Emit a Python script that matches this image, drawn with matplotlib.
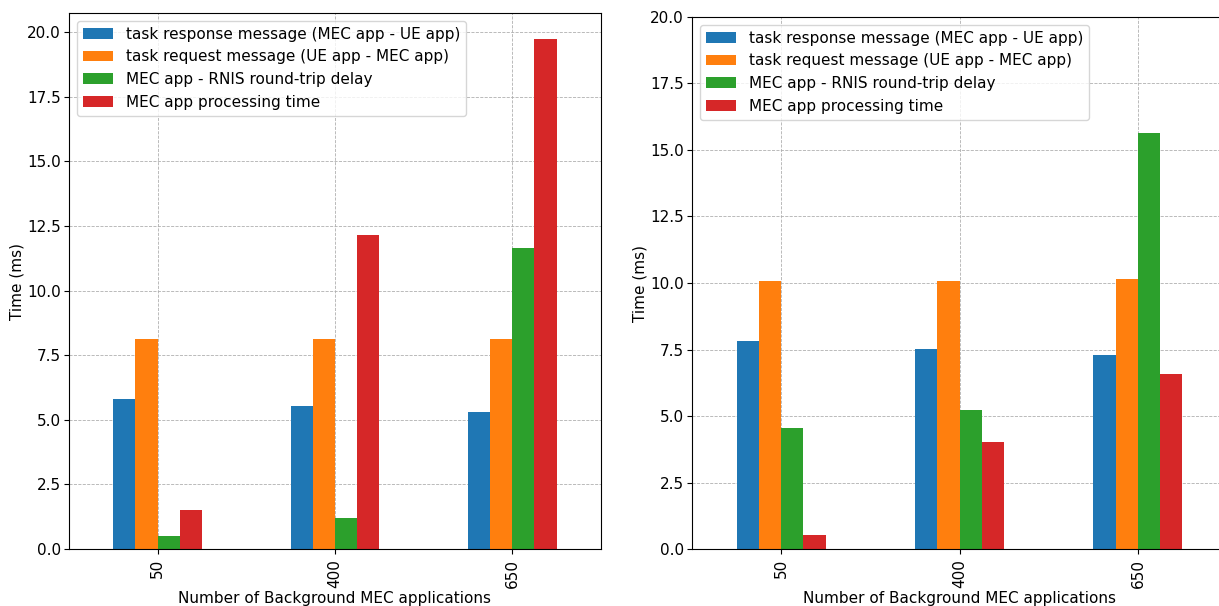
import numpy as np
import matplotlib
matplotlib.use("Agg")
import matplotlib.pyplot as plt

# background MEC app counts
categories = ["50", "400", "650"]
series_names = [
    "task response message (MEC app - UE app)",
    "task request message (UE app - MEC app)",
    "MEC app - RNIS round-trip delay",
    "MEC app processing time",
]
colors = ["#1f77b4", "#ff7f0e", "#2ca02c", "#d62728"]

# left panel (ms)
left_response = [5.81, 5.55, 5.29]
left_request = [8.12, 8.12, 8.12]
left_rnis = [0.52, 1.20, 11.63]
left_processing = [1.51, 12.15, 19.75]

# right panel (ms)
right_response = [7.81, 7.52, 7.30]
right_request = [10.09, 10.09, 10.15]
right_rnis = [4.55, 5.24, 15.65]
right_processing = [0.52, 4.03, 6.59]

plt.rcParams['font.size'] = 11
plt.rcParams['ytick.major.pad'] = 2.5


def draw_panel(ax, series, ylim=None):
    x = np.arange(len(categories))
    w = 0.5 / len(series)
    for i, vals in enumerate(series):
        offs = (i - (len(series) - 1) / 2) * w
        ax.bar(x + offs, vals, w, color=colors[i], label=series_names[i])
    ax.set_xticks(x)
    ax.set_xticklabels(categories, rotation=90)
    ax.set_xlim(-0.5, len(categories) - 0.5)
    if ylim is not None:
        ax.set_ylim(*ylim)
    ax.grid(True, linestyle='--', linewidth=0.6, color='#b0b0b0')
    ax.set_axisbelow(True)
    ax.set_xlabel("Number of Background MEC applications", labelpad=2)
    ax.set_ylabel("Time (ms)", labelpad=2)
    ax.legend(loc='upper left')


fig = plt.figure(figsize=(12.19, 6.06), dpi=100)
ax1 = fig.add_axes([0.0566, 0.094, 0.4364, 0.8845])
ax2 = fig.add_axes([0.5677, 0.094, 0.4389, 0.878])

draw_panel(ax1, [left_response, left_request, left_rnis, left_processing])
draw_panel(ax2, [right_response, right_request, right_rnis, right_processing], ylim=(0, 20))

fig.savefig("out.png", dpi=100)
